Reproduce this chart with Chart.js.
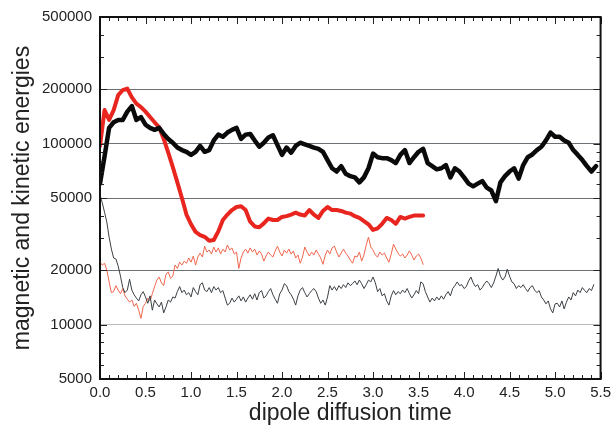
<!DOCTYPE html>
<html>
<head>
<meta charset="utf-8">
<script src="https://cdn.jsdelivr.net/npm/chart.js@4.4.1/dist/chart.umd.min.js"></script>
<style>
  body { margin: 0; background: #fff; }
  canvas { display: block; }
</style>
</head>
<body>
<canvas id="c" width="616" height="437"></canvas>
<script>
// sample spacing (dipole diffusion time units)
var dtThick = 0.05;
var dtThin = 0.025;

var yTicks = [5000, 10000, 20000, 50000, 100000, 200000, 500000];

// thick black, every 0.05 from 0
var blackThick = [
  60000, 85000, 122000, 131000, 135000, 135000, 150000, 161000, 135000, 140000,
  127000, 122000, 119000, 122000, 113000, 106000, 101000, 95000, 92000, 90000,
  86500, 90000, 97000, 90000, 92000, 104000, 112000, 109000, 115000, 119000,
  122000, 106000, 112000, 113000, 104000, 96000, 101000, 108000, 111000, 98000,
  86500, 95000, 89000, 97000, 101000, 99000, 97000, 95000, 93500, 90000,
  81000, 73000, 70000, 75000, 68000, 66000, 65000, 61000, 65000, 73000,
  88000, 84000, 83000, 83000, 81000, 78000, 86500, 92000, 78000, 84000,
  90000, 93500, 78000, 75000, 72000, 73000, 76000, 65000, 73000, 70000,
  65000, 60000, 58000, 60000, 62000, 57000, 55000, 48000, 61000, 66000,
  70000, 73000, 64000, 76000, 84000, 87000, 92000, 96000, 104000, 115000,
  109000, 109000, 104000, 101000, 92000, 86500, 81000, 75000, 70000, 75000
];

// thick red, every 0.05 from 0
var redThick = [
  97000, 153000, 135000, 153000, 185000, 197000, 201000, 180000, 166000, 159000,
  150000, 140000, 131000, 123000, 106000, 89000, 74000, 61000, 50000, 40500,
  35800, 32500, 31200, 30500, 29000, 29300, 32700, 37800, 40500, 42900,
  44600, 45000, 42900, 37000, 34800, 34500, 36200, 38500, 37800, 37800,
  39300, 39700, 40500, 41500, 40500, 40000, 42900, 40500, 38800, 42400,
  44600, 42900, 42900, 42400, 41500, 41000, 39700, 38800, 37300, 35800,
  33300, 34000, 36000, 38800, 37800, 36000, 39300, 38500, 39300, 40000,
  40000, 40000
];

// thin black, every 0.025 from 0
var blackThin = [
  52000, 47000, 41700, 36800, 30400, 26100, 23300, 23000, 21000, 18500,
  16000, 15000, 15500, 17800, 15500, 14600, 14000, 13500, 14600, 15200,
  14200, 13100, 14400, 12000, 13660, 13000, 12500, 13300, 11600, 12500,
  13660, 13300, 14200, 14000, 15200, 16200, 15000, 15500, 14600, 15000,
  14200, 16000, 15200, 14600, 16600, 17000, 15500, 15200, 16000, 15000,
  16200, 15500, 16000, 15000, 15400, 14000, 12800, 13100, 14000, 13300,
  13800, 14400, 13500, 14200, 13300, 14000, 14600, 13800, 14800, 13660,
  15000, 15400, 14000, 14400, 15200, 15800, 14600, 13800, 13100, 14800,
  15500, 16800, 16400, 15200, 14600, 13800, 12800, 14400, 15500, 16000,
  15000, 14200, 14800, 15400, 15800, 15200, 14000, 13100, 13660, 12800,
  14200, 16400, 15500, 16200, 15400, 16400, 15800, 16600, 16000, 17000,
  16400, 16800, 17400, 16600, 17600, 16800, 15800, 16600, 17600, 17200,
  18300, 17000, 15200, 15800, 14400, 14800, 13500, 12800, 14400, 15400,
  14600, 15200, 14800, 15500, 15000, 15800, 14800, 14000, 14600, 15400,
  14800, 17200, 16800, 15200, 14200, 13300, 14000, 13500, 14200, 13660,
  14400, 13800, 14600, 15200, 14400, 15800, 16400, 17200, 16400, 16600,
  15800, 16200, 17400, 18300, 17000, 16200, 16600, 15500, 16000, 16800,
  17400, 16800, 16000, 17000, 18500, 20400, 18500, 17600, 18300, 20200,
  18500, 17200, 16800, 15800, 16400, 16000, 16600, 15800, 15200, 16000,
  16400, 15500, 15000, 15400, 14200, 13660, 13000, 13500, 12200, 11600,
  13000, 13100, 12500, 13500, 12200, 13300, 14200, 13660, 15000, 14400,
  15500, 15000, 16000, 15400, 15000, 15800, 15400, 16600
];

// thin red, every 0.025 from 0
var redThin = [
  22100, 21300, 21800, 20000, 17200, 15000, 15200, 16400, 15500, 14800,
  15800, 14400, 13800, 13300, 13660, 12600, 13100, 12000, 10800, 12600,
  13100, 14000, 13500, 14800, 16200, 17600, 18300, 17000, 16400, 19000,
  19500, 18000, 18500, 21300, 20400, 22100, 21300, 22400, 21800, 23300,
  22100, 23900, 21300, 23600, 24800, 23600, 27100, 25150, 25800, 24500,
  26800, 25150, 26500, 24500, 26100, 25150, 27500, 25800, 26500, 24500,
  25150, 20400, 23300, 25150, 26100, 24800, 26500, 25150, 26100, 24200,
  25500, 24500, 22400, 23900, 25150, 24200, 23600, 25500, 27100, 25150,
  23900, 25800, 24800, 26100, 24500, 25500, 23300, 24200, 21800, 23600,
  26800, 25150, 23900, 25150, 24200, 25800, 24500, 23300, 21500, 24200,
  25800, 24500, 26500, 27100, 25150, 23600, 24800, 26100, 24800, 23900,
  22700, 21800, 23900, 23600, 25150, 22400, 24200, 27500, 30400, 26800,
  25800, 24200, 23600, 25150, 24200, 24800, 23300, 22100, 24500, 27800,
  26100, 24800, 23900, 24500, 23300, 24200, 25500, 24200, 22700, 23900,
  24500, 23300, 21500
];

function points(vals, dt) {
  return vals.map(function(v, i) {
    return {x: +(i * dt).toFixed(3), y: v};
  });
}

var fontFamily = "'Liberation Sans', Arial, sans-serif";

// inward tick marks on all four sides plus the frame
var framePlugin = {
  id: 'frame',
  afterDraw: function(chart) {
    var ctx = chart.ctx, a = chart.chartArea;
    var xs = chart.scales.x, ys = chart.scales.y;
    ctx.save();
    ctx.strokeStyle = '#222';
    ctx.lineWidth = 1;
    ctx.beginPath();
    for (var i = 0; i <= 55; i++) {
      var px = Math.round(xs.getPixelForValue(i / 10)) + 0.5;
      var len = i % 5 === 0 ? 7 : 4;
      ctx.moveTo(px, a.bottom); ctx.lineTo(px, a.bottom - len);
      ctx.moveTo(px, a.top); ctx.lineTo(px, a.top + len);
    }
    for (var d = 1000; d <= 100000; d *= 10) {
      for (var m = 1; m < 10; m++) {
        var v = d * m;
        if (v < 5000 || v > 500000) continue;
        var py = Math.round(ys.getPixelForValue(v)) + 0.5;
        var l2 = yTicks.indexOf(v) >= 0 ? 7 : 4;
        ctx.moveTo(a.left, py); ctx.lineTo(a.left + l2, py);
        ctx.moveTo(a.right, py); ctx.lineTo(a.right - l2, py);
      }
    }
    ctx.stroke();
    ctx.lineWidth = 2;
    ctx.strokeStyle = '#111';
    ctx.strokeRect(a.left, a.top, a.right - a.left, a.bottom - a.top);
    ctx.restore();
  }
};

var config = {
  type: 'line',
  data: {
    datasets: [{
      label: 'black thick',
      data: points(blackThick, dtThick),
      borderColor: '#0a0a0a',
      borderWidth: 4.5,
    }, {
      label: 'red thick',
      data: points(redThick, dtThick),
      borderColor: '#e8261f',
      borderWidth: 4,
    }, {
      label: 'black thin',
      data: points(blackThin, dtThin),
      borderColor: '#3b4045',
      borderWidth: 1,
    }, {
      label: 'red thin',
      data: points(redThin, dtThin),
      borderColor: '#f0674f',
      borderWidth: 1,
    }]
  },
  options: {
    responsive: false,
    animation: false,
    events: [],
    elements: {
      point: { radius: 0 },
      line: { tension: 0, borderJoinStyle: 'round', borderCapStyle: 'round' }
    },
    layout: { padding: { top: 17, right: 11, left: 0, bottom: 0 } },
    plugins: {
      legend: { display: false },
      tooltip: { enabled: false }
    },
    scales: {
      x: {
        type: 'linear',
        min: 0,
        max: 5.5,
        grid: { display: false, drawTicks: false },
        border: { display: false },
        ticks: {
          stepSize: 0.5,
          padding: 5,
          color: '#222',
          font: { family: fontFamily, size: 15 },
          callback: function(v) { return Number(v).toFixed(1); }
        },
        title: {
          display: true,
          text: 'dipole diffusion time',
          color: '#222',
          font: { family: fontFamily, size: 23 },
          padding: { top: 0, bottom: 10 }
        },
        afterFit: function(scale) { scale.height = 58; }
      },
      y: {
        type: 'logarithmic',
        min: 5000,
        max: 500000,
        afterBuildTicks: function(scale) {
          scale.ticks = yTicks.map(function(v) { return {value: v}; });
        },
        grid: {
          drawTicks: false,
          lineWidth: 1,
          color: function(c) {
            if (!c.tick) return '#777';
            if (c.tick.value === 10000) return '#b8bcc0';
            if (c.tick.value === 5000 || c.tick.value === 500000) return 'rgba(0,0,0,0)';
            return '#6c7176';
          }
        },
        border: { display: false },
        ticks: {
          autoSkip: false,
          padding: 8,
          color: '#222',
          font: { family: fontFamily, size: 15 },
          callback: function(v) { return String(v); }
        },
        title: {
          display: true,
          text: 'magnetic and kinetic energies',
          color: '#222',
          font: { family: fontFamily, size: 23 },
          padding: { top: 9, bottom: 0 }
        },
        afterFit: function(scale) { scale.width = 100; }
      }
    }
  },
  plugins: [framePlugin]
};

var chart = new Chart(document.getElementById('c'), config);
</script>
</body>
</html>
